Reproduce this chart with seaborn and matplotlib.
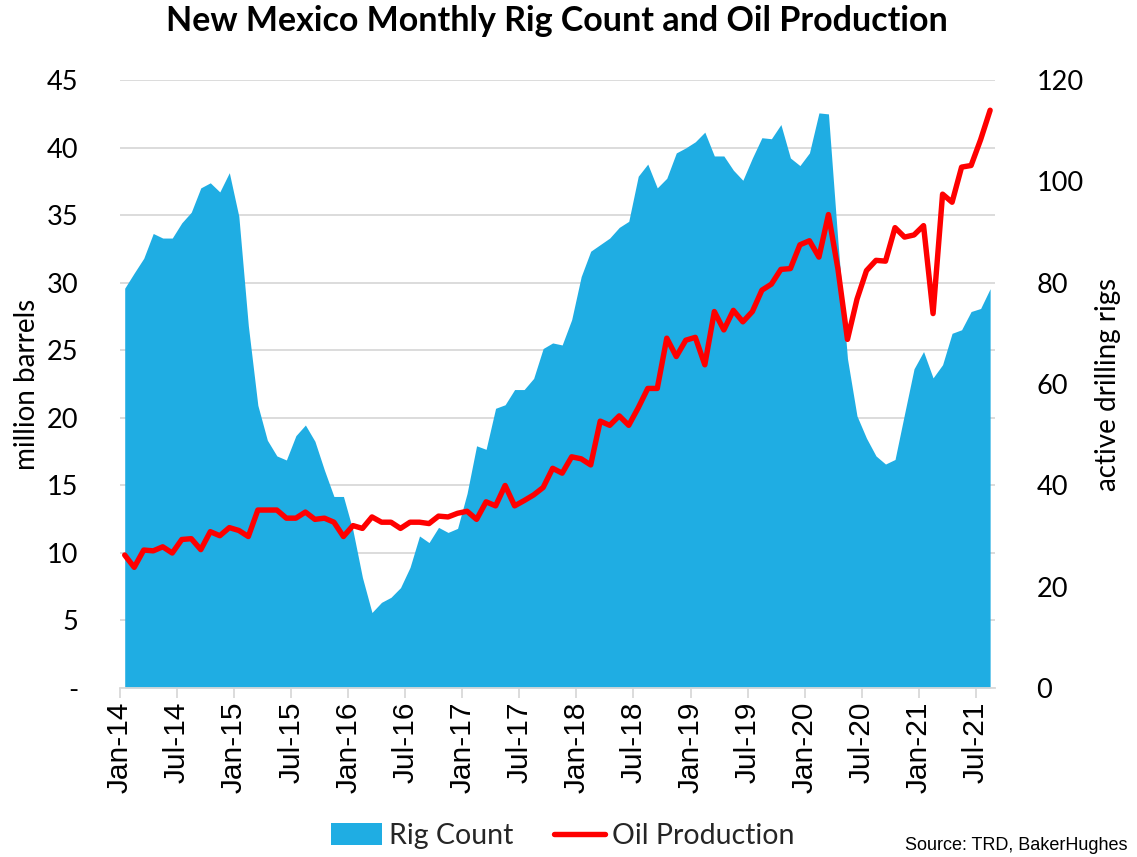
import numpy as np
import pandas as pd
import matplotlib.pyplot as plt
import seaborn as sns
from matplotlib.patches import Patch
from matplotlib.lines import Line2D

# ==============================
# data (Jan-14 .. Aug-21, monthly)
# ==============================

tick_labels = ["Jan-14", "Jul-14", "Jan-15", "Jul-15", "Jan-16", "Jul-16",
               "Jan-17", "Jul-17", "Jan-18", "Jul-18", "Jan-19", "Jul-19",
               "Jan-20", "Jul-20", "Jan-21", "Jul-21"]

# active drilling rigs (right axis)
rig_count = [
    78.9, 81.9, 84.8, 89.7, 88.8, 88.8, 91.8, 93.9, 98.7, 99.7, 97.9, 101.7,
    93.1, 71.5, 55.8, 48.9, 45.8, 45.0, 49.8, 51.9, 48.7, 43.0, 37.8, 37.8,
    31.1, 21.8, 14.9, 16.9, 17.9, 19.8, 23.8, 30.0, 28.7, 31.7, 30.7, 31.5,
    38.4, 47.8, 47.1, 55.2, 55.9, 58.9, 58.9, 61.1, 67.0, 68.1, 67.7, 72.7,
    81.2, 86.2, 87.5, 88.8, 90.9, 92.1, 101.0, 103.4, 98.7, 100.6, 105.6, 106.6,
    107.8, 109.7, 105.0, 105.0, 102.2, 100.2, 104.6, 108.6, 108.4, 111.2, 104.6, 103.1,
    105.6, 113.5, 113.3, 88.0, 65.0, 53.7, 49.3, 45.8, 44.2, 45.1, 54.1, 63.0,
    66.4, 61.2, 63.8, 70.0, 70.7, 74.3, 74.9, 78.8,
]

# oil production, million barrels (left axis)
oil_production = [
    9.84, 8.93, 10.21, 10.15, 10.45, 9.99, 10.99, 11.05, 10.24, 11.57, 11.27, 11.87,
    11.66, 11.21, 13.17, 13.17, 13.17, 12.57, 12.57, 13.02, 12.48, 12.57, 12.27, 11.21,
    12.02, 11.81, 12.66, 12.27, 12.27, 11.81, 12.27, 12.27, 12.17, 12.72, 12.66, 12.93,
    13.08, 12.48, 13.78, 13.48, 14.99, 13.48, 13.87, 14.29, 14.84, 16.26, 15.90, 17.11,
    16.96, 16.51, 19.75, 19.44, 20.14, 19.44, 20.74, 22.17, 22.17, 25.89, 24.53, 25.74,
    25.95, 23.92, 27.86, 26.50, 27.95, 27.10, 27.86, 29.44, 29.89, 30.98, 31.04, 32.80,
    33.10, 31.89, 35.04, 31.00, 25.80, 28.77, 30.89, 31.65, 31.59, 34.07, 33.37, 33.53,
    34.22, 27.71, 36.55, 35.95, 38.55, 38.67, 40.58, 42.76,
]

df = pd.DataFrame({
    "month": np.arange(len(rig_count)),
    "rigs": rig_count,
    "oil": oil_production,
})

BLUE = "#1fade3"
RED = "#ff0000"
GRID = "#d9d9d9"

sns.set_theme(style="white")
plt.rcParams["font.family"] = ["Lato", "DejaVu Sans"]

fig = plt.figure(figsize=(11.37, 8.57), dpi=100)
ax = fig.add_axes([0.1055, 0.1972, 0.7695, 0.7095])
ax_rig = ax.twinx()
ax_oil = ax.twinx()

# ==============================
# marks
# ==============================

ax_rig.fill_between(df["month"], df["rigs"], color=BLUE, lw=0)
sns.lineplot(data=df, x="month", y="oil", ax=ax_oil, color=RED, lw=3.9,
             solid_joinstyle="round", solid_capstyle="round")

# ==============================
# axes
# ==============================

ax.set_xlim(-0.5, len(rig_count) - 0.5)
ax.set_ylim(0, 45)
ax_oil.set_ylim(0, 45)
ax_rig.set_ylim(0, 120)

left_ticks = np.arange(0, 46, 5)
ax.set_yticks(left_ticks)
ax.set_yticklabels(["-"] + [str(v) for v in left_ticks[1:]])
ax.yaxis.grid(True, color=GRID, lw=1.3)
ax.tick_params(axis="y", length=0, pad=30, labelsize=19.5, labelcolor="black")
ax.set_ylabel("million barrels", fontsize=20, color="black", labelpad=5)

ax.set_xticks(np.arange(0, len(rig_count), 6) - 0.5)
ax.set_xticklabels(tick_labels, rotation=90)
ax.tick_params(axis="x", bottom=True, direction="out", length=7, width=1.3,
               color=GRID, labelsize=21.5, labelcolor="black", pad=3)
for lbl in ax.get_xticklabels():
    lbl.set_fontfamily("Liberation Sans")
ax.set_xlabel("")

ax_rig.set_yticks(np.arange(0, 121, 20))
ax_rig.tick_params(axis="y", length=0, pad=30, labelsize=19.5, labelcolor="black")
ax_rig.set_ylabel("active drilling rigs", fontsize=20, color="black", labelpad=8)

ax_oil.yaxis.set_visible(False)
ax_oil.set_xlabel("")

for a in (ax, ax_rig, ax_oil):
    for s in a.spines.values():
        s.set_visible(False)
ax_oil.spines["bottom"].set_visible(True)
ax_oil.spines["bottom"].set_color(GRID)
ax_oil.spines["bottom"].set_linewidth(1.3)

# ==============================
# title, legend, source
# ==============================

fig.text(0.49, 0.994, "New Mexico Monthly Rig Count and Oil Production",
         ha="center", va="top", fontsize=24.5, fontweight="bold", color="black")

handles = [Patch(facecolor=BLUE, edgecolor="none"),
           Line2D([], [], color=RED, lw=3.9)]
fig.legend(handles, ["Rig Count", "Oil Production"], loc="center",
           bbox_to_anchor=(0.495, 0.0245), ncol=2, frameon=False, fontsize=20.5,
           handlelength=1.8, handleheight=0.8, handletextpad=0.25,
           columnspacing=1.4)

fig.text(0.992, 0.004, "Source: TRD, BakerHughes", ha="right", va="bottom",
         fontsize=13, family="Liberation Sans", color="black")

fig.savefig("out.png", dpi=100)
